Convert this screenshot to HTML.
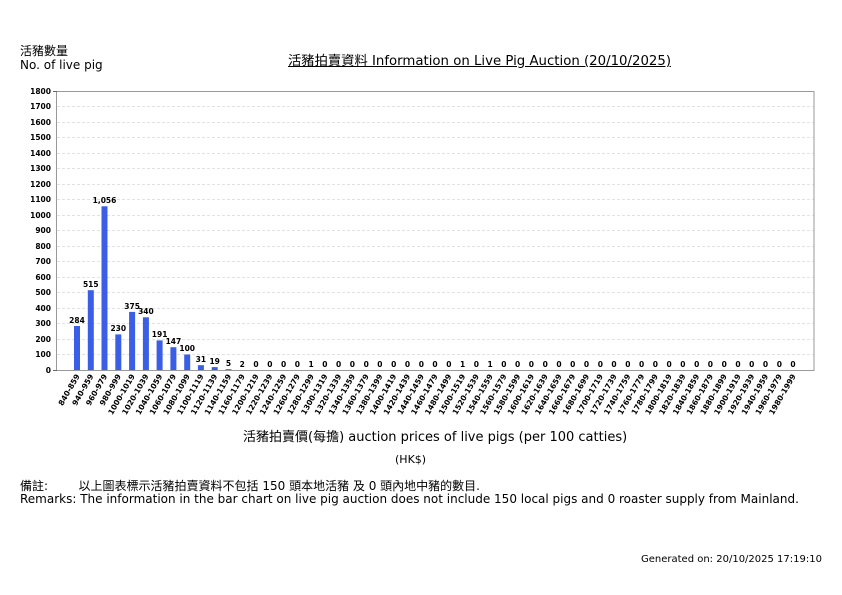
<!DOCTYPE html>
<html><head><meta charset="utf-8"><style>
body{margin:0;background:#fff;width:842px;height:595px;overflow:hidden;font-family:"DejaVu Sans","Noto Sans CJK TC",sans-serif;}
.t{position:absolute;color:#000;white-space:nowrap;}
</style></head><body>
<div class="t" style="left:20px;top:42px;font-size:12px;">活豬數量</div>
<div class="t" style="left:20px;top:58px;font-size:12px;">No. of live pig</div>
<div class="t" style="left:288px;top:50px;font-size:13.3px;text-decoration:underline;">活豬拍賣資料 Information on Live Pig Auction (20/10/2025)</div>
<div class="t" style="left:243px;top:426px;font-size:13px;">活豬拍賣價(每擔) auction prices of live pigs (per 100 catties)</div>
<div class="t" style="left:395px;top:453px;font-size:11px;">(HK$)</div>
<div class="t" style="left:20px;top:477px;font-size:12px;">備註:&nbsp;&nbsp;&nbsp;&nbsp;&nbsp;&nbsp;&nbsp;&nbsp;以上圖表標示活豬拍賣資料不包括 150 頭本地活豬 及 0 頭內地中豬的數目.</div>
<div class="t" style="left:20px;top:492px;font-size:12px;">Remarks: The information in the bar chart on live pig auction does not include 150 local pigs and 0 roaster supply from Mainland.</div>
<div class="t" style="left:641px;top:554px;font-size:10px;">Generated on: 20/10/2025 17:19:10</div>
<svg width="842" height="595" style="position:absolute;left:0;top:0" font-family="DejaVu Sans, sans-serif">
<g stroke="#e2e2e2" stroke-dasharray="3,2" stroke-width="1">
<line x1="57" x2="814" y1="354.5" y2="354.5"/><line x1="57" x2="814" y1="339.5" y2="339.5"/><line x1="57" x2="814" y1="323.5" y2="323.5"/><line x1="57" x2="814" y1="308.5" y2="308.5"/><line x1="57" x2="814" y1="292.5" y2="292.5"/><line x1="57" x2="814" y1="277.5" y2="277.5"/><line x1="57" x2="814" y1="261.5" y2="261.5"/><line x1="57" x2="814" y1="246.5" y2="246.5"/><line x1="57" x2="814" y1="230.5" y2="230.5"/><line x1="57" x2="814" y1="215.5" y2="215.5"/><line x1="57" x2="814" y1="199.5" y2="199.5"/><line x1="57" x2="814" y1="184.5" y2="184.5"/><line x1="57" x2="814" y1="168.5" y2="168.5"/><line x1="57" x2="814" y1="153.5" y2="153.5"/><line x1="57" x2="814" y1="137.5" y2="137.5"/><line x1="57" x2="814" y1="122.5" y2="122.5"/><line x1="57" x2="814" y1="106.5" y2="106.5"/>
</g>
<rect x="56.5" y="91.5" width="757.5" height="279" fill="none" stroke="#999"/>
<g stroke="#666"><line x1="53" x2="57" y1="370.5" y2="370.5"/><line x1="53" x2="57" y1="91.5" y2="91.5"/></g>
<g font-size="7.5" text-anchor="end" fill="#000" font-weight="bold">
<text x="51" y="373">0</text><text x="51" y="357">100</text><text x="51" y="342">200</text><text x="51" y="326">300</text><text x="51" y="311">400</text><text x="51" y="295">500</text><text x="51" y="280">600</text><text x="51" y="264">700</text><text x="51" y="249">800</text><text x="51" y="233">900</text><text x="51" y="218">1000</text><text x="51" y="202">1100</text><text x="51" y="187">1200</text><text x="51" y="171">1300</text><text x="51" y="156">1400</text><text x="51" y="140">1500</text><text x="51" y="125">1600</text><text x="51" y="109">1700</text><text x="51" y="94">1800</text>
</g>
<g fill="#3a5fe6">
<rect x="74" y="326" width="6" height="44"/><rect x="87.8" y="290.2" width="6" height="79.8"/><rect x="101.5" y="206.3" width="6" height="163.7"/><rect x="115.3" y="334.4" width="6" height="35.6"/><rect x="129.1" y="311.9" width="6" height="58.1"/><rect x="142.9" y="317.3" width="6" height="52.7"/><rect x="156.6" y="340.4" width="6" height="29.6"/><rect x="170.4" y="347.2" width="6" height="22.8"/><rect x="184.2" y="354.5" width="6" height="15.5"/><rect x="197.9" y="365.2" width="6" height="4.8"/><rect x="211.7" y="367.1" width="6" height="2.9"/><rect x="225.5" y="369.2" width="6" height="0.8"/>
</g>
<g font-size="7.5" text-anchor="middle" fill="#000" font-weight="bold">
<text x="77" y="323">284</text><text x="90.8" y="287">515</text><text x="104.5" y="203">1,056</text><text x="118.3" y="331">230</text><text x="132.1" y="309">375</text><text x="145.9" y="314">340</text><text x="159.6" y="337">191</text><text x="173.4" y="344">147</text><text x="187.2" y="351">100</text><text x="200.9" y="362">31</text><text x="214.7" y="364">19</text><text x="228.5" y="366">5</text><text x="242.2" y="367">2</text><text x="256" y="367">0</text><text x="269.8" y="367">0</text><text x="283.6" y="367">0</text><text x="297.3" y="367">0</text><text x="311.1" y="367">1</text><text x="324.9" y="367">0</text><text x="338.6" y="367">0</text><text x="352.4" y="367">0</text><text x="366.2" y="367">0</text><text x="379.9" y="367">0</text><text x="393.7" y="367">0</text><text x="407.5" y="367">0</text><text x="421.3" y="367">0</text><text x="435" y="367">0</text><text x="448.8" y="367">0</text><text x="462.6" y="367">1</text><text x="476.3" y="367">0</text><text x="490.1" y="367">1</text><text x="503.9" y="367">0</text><text x="517.6" y="367">0</text><text x="531.4" y="367">0</text><text x="545.2" y="367">0</text><text x="559" y="367">0</text><text x="572.7" y="367">0</text><text x="586.5" y="367">0</text><text x="600.3" y="367">0</text><text x="614" y="367">0</text><text x="627.8" y="367">0</text><text x="641.6" y="367">0</text><text x="655.3" y="367">0</text><text x="669.1" y="367">0</text><text x="682.9" y="367">0</text><text x="696.7" y="367">0</text><text x="710.4" y="367">0</text><text x="724.2" y="367">0</text><text x="738" y="367">0</text><text x="751.7" y="367">0</text><text x="765.5" y="367">0</text><text x="779.3" y="367">0</text><text x="793" y="367">0</text>
</g>
<g font-size="7.6" text-anchor="end" fill="#000" font-weight="bold">
<text transform="translate(80,376) rotate(-60)">840-859</text><text transform="translate(93.8,376) rotate(-60)">940-959</text><text transform="translate(107.5,376) rotate(-60)">960-979</text><text transform="translate(121.3,376) rotate(-60)">980-999</text><text transform="translate(135.1,376) rotate(-60)">1000-1019</text><text transform="translate(148.9,376) rotate(-60)">1020-1039</text><text transform="translate(162.6,376) rotate(-60)">1040-1059</text><text transform="translate(176.4,376) rotate(-60)">1060-1079</text><text transform="translate(190.2,376) rotate(-60)">1080-1099</text><text transform="translate(203.9,376) rotate(-60)">1100-1119</text><text transform="translate(217.7,376) rotate(-60)">1120-1139</text><text transform="translate(231.5,376) rotate(-60)">1140-1159</text><text transform="translate(245.2,376) rotate(-60)">1160-1179</text><text transform="translate(259,376) rotate(-60)">1200-1219</text><text transform="translate(272.8,376) rotate(-60)">1220-1239</text><text transform="translate(286.6,376) rotate(-60)">1240-1259</text><text transform="translate(300.3,376) rotate(-60)">1260-1279</text><text transform="translate(314.1,376) rotate(-60)">1280-1299</text><text transform="translate(327.9,376) rotate(-60)">1300-1319</text><text transform="translate(341.6,376) rotate(-60)">1320-1339</text><text transform="translate(355.4,376) rotate(-60)">1340-1359</text><text transform="translate(369.2,376) rotate(-60)">1360-1379</text><text transform="translate(382.9,376) rotate(-60)">1380-1399</text><text transform="translate(396.7,376) rotate(-60)">1400-1419</text><text transform="translate(410.5,376) rotate(-60)">1420-1439</text><text transform="translate(424.3,376) rotate(-60)">1440-1459</text><text transform="translate(438,376) rotate(-60)">1460-1479</text><text transform="translate(451.8,376) rotate(-60)">1480-1499</text><text transform="translate(465.6,376) rotate(-60)">1500-1519</text><text transform="translate(479.3,376) rotate(-60)">1520-1539</text><text transform="translate(493.1,376) rotate(-60)">1540-1559</text><text transform="translate(506.9,376) rotate(-60)">1560-1579</text><text transform="translate(520.6,376) rotate(-60)">1580-1599</text><text transform="translate(534.4,376) rotate(-60)">1600-1619</text><text transform="translate(548.2,376) rotate(-60)">1620-1639</text><text transform="translate(562,376) rotate(-60)">1640-1659</text><text transform="translate(575.7,376) rotate(-60)">1660-1679</text><text transform="translate(589.5,376) rotate(-60)">1680-1699</text><text transform="translate(603.3,376) rotate(-60)">1700-1719</text><text transform="translate(617,376) rotate(-60)">1720-1739</text><text transform="translate(630.8,376) rotate(-60)">1740-1759</text><text transform="translate(644.6,376) rotate(-60)">1760-1779</text><text transform="translate(658.3,376) rotate(-60)">1780-1799</text><text transform="translate(672.1,376) rotate(-60)">1800-1819</text><text transform="translate(685.9,376) rotate(-60)">1820-1839</text><text transform="translate(699.7,376) rotate(-60)">1840-1859</text><text transform="translate(713.4,376) rotate(-60)">1860-1879</text><text transform="translate(727.2,376) rotate(-60)">1880-1899</text><text transform="translate(741,376) rotate(-60)">1900-1919</text><text transform="translate(754.7,376) rotate(-60)">1920-1939</text><text transform="translate(768.5,376) rotate(-60)">1940-1959</text><text transform="translate(782.3,376) rotate(-60)">1960-1979</text><text transform="translate(796,376) rotate(-60)">1980-1999</text>
</g>
</svg>
</body></html>
